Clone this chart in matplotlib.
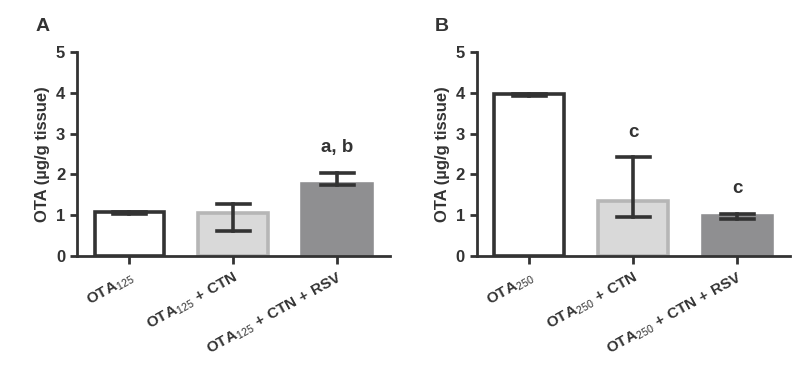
import numpy as np
import matplotlib
matplotlib.use("Agg")
import matplotlib.pyplot as plt

plt.rcParams['font.family'] = ['Liberation Sans', 'DejaVu Sans']
plt.rcParams['mathtext.fontset'] = 'custom'
plt.rcParams['mathtext.rm'] = 'Liberation Sans'
plt.rcParams['mathtext.bf'] = 'Liberation Sans:bold'

# panel A data
labels_a = [r"$\mathbf{OTA}\mathregular{_{125}}$",
            r"$\mathbf{OTA}\mathregular{_{125}}\mathbf{\ {+}\ CTN}$",
            r"$\mathbf{OTA}\mathregular{_{125}}\mathbf{\ {+}\ CTN\ {+}\ RSV}$"]
means_a = [1.07, 1.05, 1.77]
err_lo_a = [1.04, 0.62, 1.73]
err_hi_a = [1.07, 1.27, 2.03]
notes_a = ["", "", "a, b"]
note_y_a = [None, None, 2.66]

# panel B data
labels_b = [r"$\mathbf{OTA}\mathregular{_{250}}$",
            r"$\mathbf{OTA}\mathregular{_{250}}\mathbf{\ {+}\ CTN}$",
            r"$\mathbf{OTA}\mathregular{_{250}}\mathbf{\ {+}\ CTN\ {+}\ RSV}$"]
means_b = [3.98, 1.35, 0.97]
err_lo_b = [3.92, 0.95, 0.90]
err_hi_b = [3.98, 2.42, 1.03]
notes_b = ["", "c", "c"]
note_y_b = [None, 3.03, 1.66]

dark = '#333333'
faces = ['white', '#d9d9d9', '#8f8f91']
edges = [dark, '#b6b6b6', '#8f8f91']


def draw(ax, labels, means, lo, hi, notes, note_y, letter):
    x = np.arange(len(means))
    ax.bar(x, means, width=0.67, color=faces, edgecolor=edges, linewidth=2.6, zorder=2)
    for xi, l, h in zip(x, lo, hi):
        ax.plot([xi, xi], [l, h], color=dark, lw=2.6, zorder=3)
        ax.plot([xi - 0.16, xi + 0.16], [h, h], color=dark, lw=2.6, zorder=3)
        ax.plot([xi - 0.16, xi + 0.16], [l, l], color=dark, lw=2.6, zorder=3)
    for xi, t, ty in zip(x, notes, note_y):
        if t:
            ax.text(xi, ty, t, ha='center', va='center', fontsize=13.5,
                    fontweight='bold', color=dark)
    ax.set_xlim(-0.505, 2.505)
    ax.set_ylim(0, 5)
    ax.set_yticks(range(6))
    ax.set_xticks(x)
    ax.set_xticklabels(labels, rotation=29, ha='right', rotation_mode='anchor',
                       fontsize=11, color=dark)
    for t in ax.get_yticklabels():
        t.set_fontweight('bold')
    ax.tick_params(axis='y', labelsize=12, colors=dark, width=2, length=5)
    ax.tick_params(axis='x', colors=dark, width=2, length=6, pad=4)
    for s in ['top', 'right']:
        ax.spines[s].set_visible(False)
    for s in ['left', 'bottom']:
        ax.spines[s].set_linewidth(2)
        ax.spines[s].set_color(dark)
    ax.set_ylabel("OTA (µg/g tissue)", fontsize=12, fontweight='bold', color=dark)
    ax.text(-0.11, 1.128, letter, transform=ax.transAxes, fontsize=14,
            fontweight='bold', color=dark, ha='center', va='center')


fig = plt.figure(figsize=(8.12, 3.86), dpi=100)
ax1 = fig.add_axes([0.0948, 0.337, 0.385, 0.528])
ax2 = fig.add_axes([0.587, 0.337, 0.386, 0.528])
draw(ax1, labels_a, means_a, err_lo_a, err_hi_a, notes_a, note_y_a, "A")
draw(ax2, labels_b, means_b, err_lo_b, err_hi_b, notes_b, note_y_b, "B")

fig.savefig("out.png", dpi=100)
